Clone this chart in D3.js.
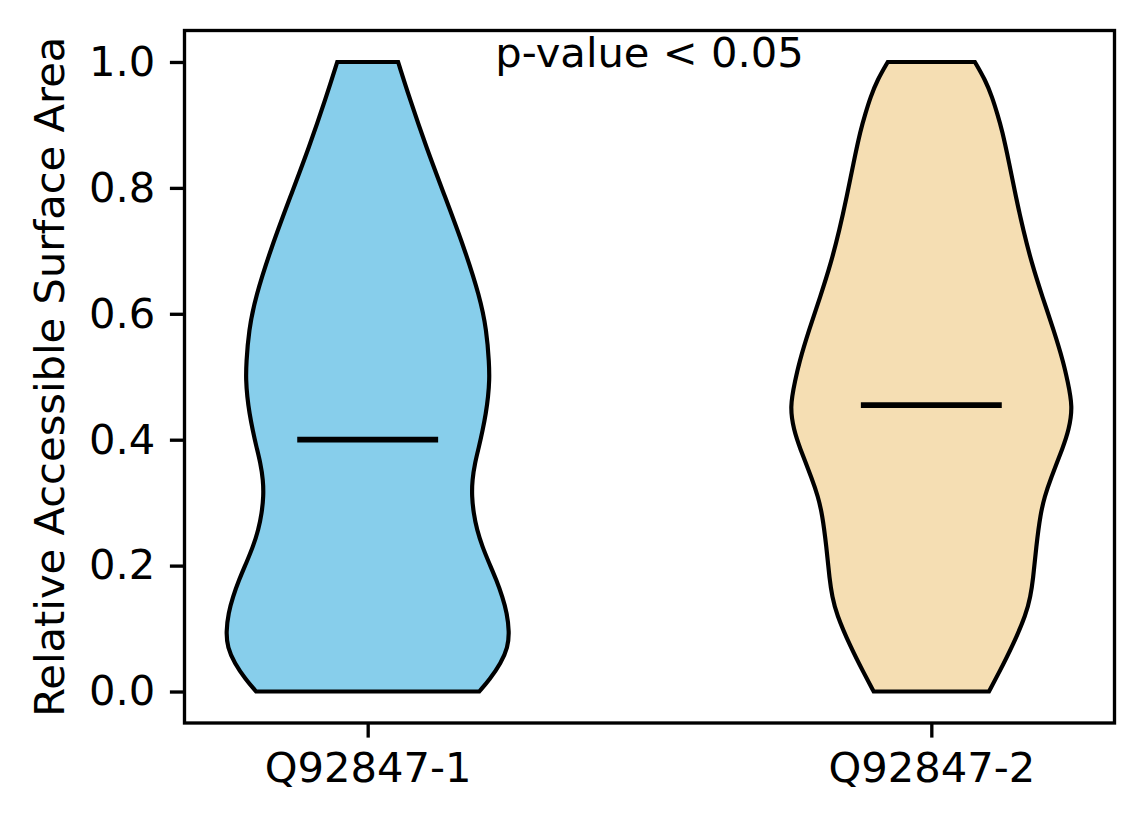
<!DOCTYPE html>
<html>
<head>
<meta charset="utf-8">
<script src="https://cdn.jsdelivr.net/npm/d3@7/dist/d3.min.js"></script>
<style>
  html, body { margin: 0; padding: 0; background: #fff; }
  text { font-family: "DejaVu Sans", sans-serif; }
</style>
</head>
<body>
<svg id="chart" width="1144" height="824"></svg>
<script>
// ---- data ----
const categories = ["Q92847-1", "Q92847-2"];
const positions = [1, 2];
const colors = ["#87CEEB", "#F5DEB3"];
const medians = [0.40, 0.455];
// RSA levels at which each violin's density profile was read
const levels1 = [0, 0.02, 0.045, 0.07, 0.095, 0.125, 0.15, 0.177, 0.204, 0.23, 0.257, 0.283,
                 0.31, 0.336, 0.363, 0.389, 0.415, 0.442, 0.468, 0.495, 0.521, 0.574, 0.627,
                 0.706, 0.786, 0.865, 0.944, 1.0];
const density1 = [0.792, 0.868, 0.945, 0.995, 1.005, 0.988, 0.957, 0.914, 0.862, 0.814, 0.775, 0.752,
                  0.739, 0.742, 0.761, 0.790, 0.816, 0.839, 0.855, 0.864, 0.862, 0.844, 0.796,
                  0.683, 0.549, 0.415, 0.295, 0.216];
const levels2 = [0, 0.029, 0.071, 0.124, 0.151, 0.177, 0.23, 0.283, 0.31, 0.336, 0.389, 0.415,
                 0.452, 0.495, 0.521, 0.574, 0.627, 0.68, 0.733, 0.786, 0.839, 0.892, 0.918,
                 0.944, 0.971, 1.0];
const density2 = [0.409, 0.478, 0.574, 0.675, 0.703, 0.722, 0.744, 0.775, 0.805, 0.843, 0.937, 0.975,
                  1.005, 0.965, 0.940, 0.869, 0.788, 0.713, 0.652, 0.600, 0.553, 0.502, 0.468,
                  0.432, 0.384, 0.309];
const levels = [levels1, levels2];
const densities = [density1, density2];
const yTicks = [0.0, 0.2, 0.4, 0.6, 0.8, 1.0];
const annotation = "p-value < 0.05";
const yLabel = "Relative Accessible Surface Area";
const violinWidth = 0.5;

// ---- layout ----
const svg = d3.select("#chart");
const L = 184.5, R = 1114.5, T = 30.5, B = 723;
const fs = 41.67;
const lw = 3.33;

const x = d3.scaleLinear().domain([0.675, 2.325]).range([L, R]);
const y = d3.scaleLinear().domain([-0.05, 1.05]).range([B, T]);

svg.append("rect").attr("width", 1144).attr("height", 824).attr("fill", "#fff");

// violins
categories.forEach((c, i) => {
  const pos = positions[i];
  const pts = levels[i].map((v, j) => ({ v, d: densities[i][j] }));
  const area = d3.area()
    .y(d => y(d.v))
    .x0(d => x(pos - d.d * violinWidth / 2))
    .x1(d => x(pos + d.d * violinWidth / 2))
    .curve(d3.curveBasis);
  svg.append("path")
    .datum(pts)
    .attr("d", area)
    .attr("fill", colors[i])
    .attr("stroke", "#000")
    .attr("stroke-width", 4.17)
    .attr("stroke-linejoin", "miter");
  svg.append("line")
    .attr("x1", x(pos - violinWidth / 4))
    .attr("x2", x(pos + violinWidth / 4))
    .attr("y1", y(medians[i]))
    .attr("y2", y(medians[i]))
    .attr("stroke", "#000")
    .attr("stroke-width", 5.8);
});

// axes
const yAxis = d3.axisLeft(y).tickValues(yTicks).tickFormat(d3.format(".1f"))
  .tickSize(14.6).tickPadding(14.6).tickSizeOuter(0);
const gy = svg.append("g").attr("transform", `translate(${L},0)`).call(yAxis);
const xAxis = d3.axisBottom(x).tickValues(positions).tickFormat((d, i) => categories[i])
  .tickSize(14.6).tickPadding(14.6).tickSizeOuter(0);
const gx = svg.append("g").attr("transform", `translate(0,${B})`).call(xAxis);
[gx, gy].forEach(g => {
  g.select(".domain").remove();
  g.selectAll(".tick line").attr("stroke", "#000").attr("stroke-width", lw);
  g.selectAll(".tick text").attr("fill", "#000").style("font-size", fs + "px")
    .style("font-family", "'DejaVu Sans', sans-serif");
});

// frame
svg.append("rect")
  .attr("x", L).attr("y", T).attr("width", R - L).attr("height", B - T)
  .attr("fill", "none").attr("stroke", "#000").attr("stroke-width", lw);

// annotation
svg.append("text")
  .attr("x", x(1.5)).attr("y", 66.7)
  .attr("text-anchor", "middle")
  .style("font-size", fs + "px")
  .attr("fill", "#000")
  .text(annotation);

// y label
svg.append("text")
  .attr("transform", `translate(63.5,${(T + B) / 2}) rotate(-90)`)
  .attr("text-anchor", "middle")
  .style("font-size", fs + "px")
  .attr("fill", "#000")
  .text(yLabel);
</script>
</body>
</html>
